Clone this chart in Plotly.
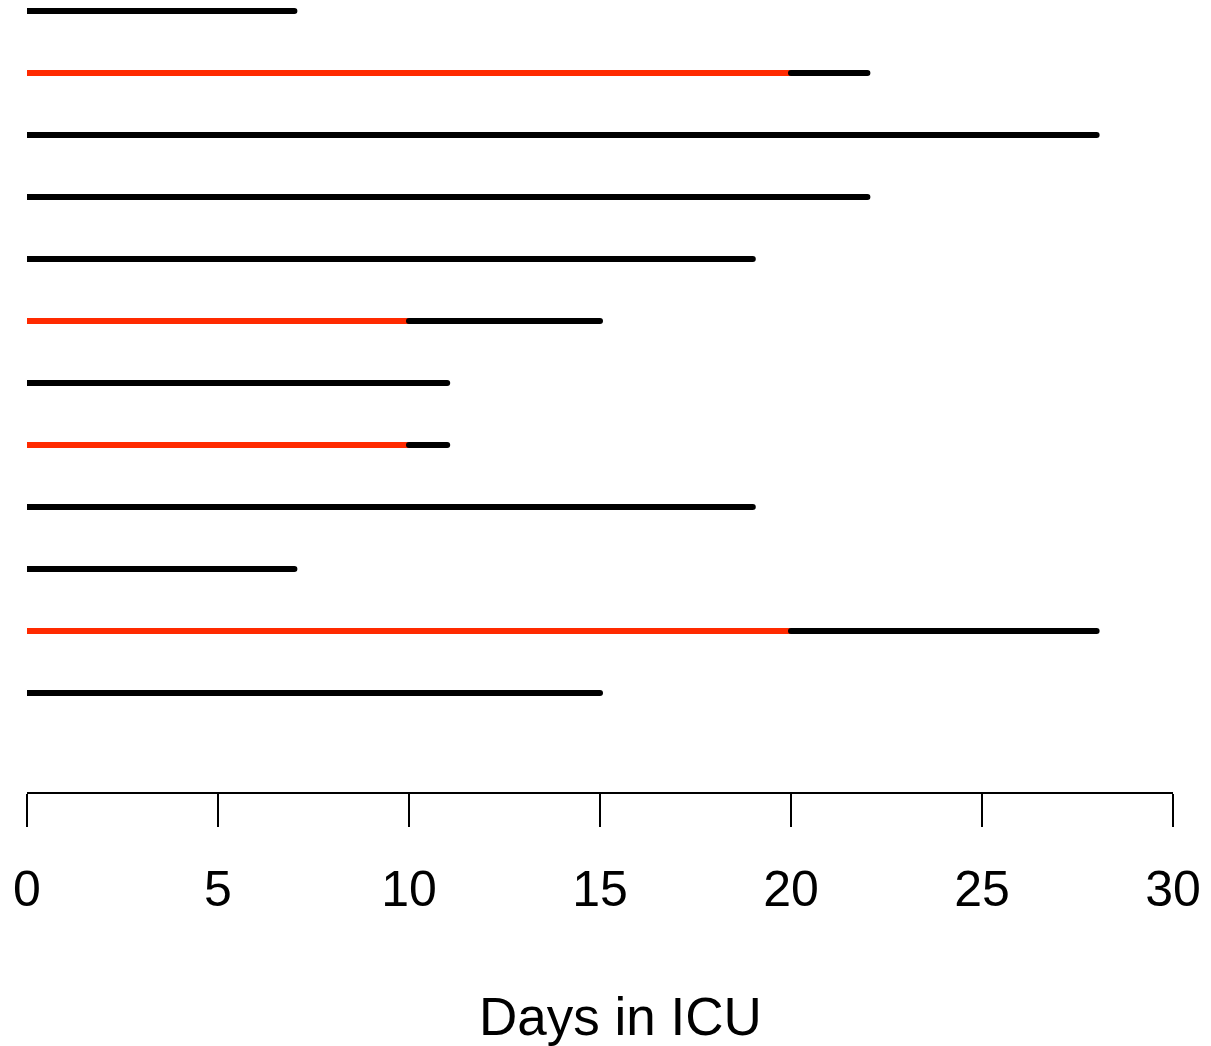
import plotly.graph_objects as go

# Rows listed from top to bottom
total_days = [7, 22, 28, 22, 19, 15, 11, 11, 19, 7, 28, 15]
red_days = [0, 20, 0, 0, 0, 10, 0, 10, 0, 0, 20, 0]
tick_vals = [0, 5, 10, 15, 20, 25, 30]
x_title = "Days in ICU"

RED = "#FF2A00"
n = len(total_days)
fig = go.Figure()
for i, (tot, red) in enumerate(zip(total_days, red_days)):
    y = n - i
    if red > 0:
        fig.add_trace(go.Scatter(x=[0, red], y=[y, y], mode="lines",
                                 line=dict(color=RED, width=6), hoverinfo="skip"))
    fig.add_trace(go.Scatter(x=[red, tot], y=[y, y], mode="lines",
                             line=dict(color="black", width=6), hoverinfo="skip"))

fig.update_layout(
    width=1211, height=1046,
    margin=dict(l=27, r=38, t=0, b=254),
    plot_bgcolor="white", paper_bgcolor="white",
    showlegend=False,
    font=dict(family="Liberation Sans, Arial, sans-serif", color="black"),
    annotations=[dict(text=x_title, xref="paper", yref="paper",
                      x=0.5175, y=-0.284, xanchor="center", yanchor="middle",
                      showarrow=False, font=dict(size=53))],
)
fig.update_xaxes(
    range=[0, 30], tickvals=tick_vals, ticks="outside", ticklen=33, tickwidth=2,
    tickcolor="black", showline=True, linecolor="black", linewidth=2,
    showgrid=False, zeroline=False, tickfont=dict(size=50),
    ticklabelstandoff=19, automargin=False,
)
fig.update_yaxes(range=[-0.597, 12.177], visible=False, showgrid=False,
                 zeroline=False, automargin=False)

post = (
    "document.body.style.margin='0px';"
    "document.querySelectorAll('path.js-line').forEach(function(p){"
    "p.style.strokeLinecap='round';});"
)
fig.write_html("out.html", config={"displayModeBar": False}, post_script=post)
